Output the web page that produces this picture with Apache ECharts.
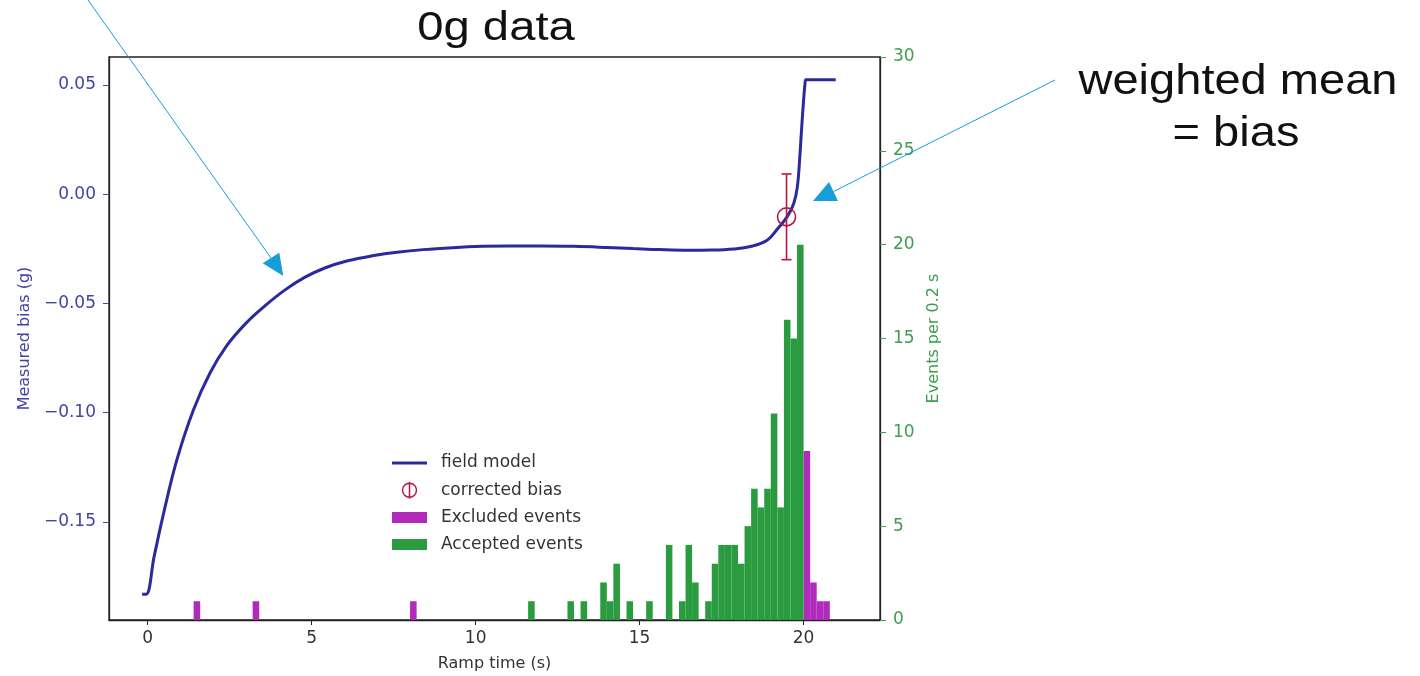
<!DOCTYPE html>
<html>
<head>
<meta charset="utf-8">
<script src="https://cdn.jsdelivr.net/npm/echarts@6/dist/echarts.min.js"></script>
<style>
html, body { margin: 0; padding: 0; background: #ffffff; }
#chart { width: 1420px; height: 676px; }
</style>
</head>
<body>
<div id="chart"></div>
<script>
// Field model: ramp time (s) against measured bias (g)
const modelTime = [-0.17, -0.05, 0.2, 0.5, 0.9, 1.4, 1.9, 2.4, 3.0, 3.6, 4.2, 4.8, 5.4, 6.1, 6.9, 7.6, 8.4, 9.3, 10.2, 11.0, 12.0, 13.0, 14.0, 14.8, 15.6, 16.5, 17.2, 17.87, 18.38, 18.89, 19.2, 19.5, 19.7, 19.81, 19.88, 19.94, 20.0, 20.04, 20.07, 20.98];
const modelBias = [-0.1830, -0.1830, -0.1655, -0.1450, -0.1210, -0.0985, -0.0818, -0.0695, -0.0590, -0.0508, -0.0437, -0.0380, -0.0338, -0.0305, -0.0281, -0.0266, -0.0254, -0.0245, -0.0239, -0.0237, -0.0237, -0.0239, -0.0244, -0.0249, -0.0254, -0.0257, -0.0256, -0.0251, -0.0240, -0.0211, -0.0160, -0.0103, -0.0043, 0.0033, 0.0160, 0.0300, 0.0430, 0.0500, 0.0523, 0.0523];

// Corrected bias (weighted mean) and its uncertainty
const biasTime = [19.48];
const biasValue = [-0.0104];
const biasError = [0.0196];

// Event histograms, 0.2 s bins: left bin edges and counts
const binWidth = 0.2;
const acceptedStart = [11.6, 12.8, 13.2, 13.8, 14.0, 14.2, 14.6, 15.2, 15.8, 16.2, 16.4, 16.6, 17.0, 17.2, 17.4, 17.6, 17.8, 18.0, 18.2, 18.4, 18.6, 18.8, 19.0, 19.2, 19.4, 19.6, 19.8];
const acceptedCount = [1, 1, 1, 2, 1, 3, 1, 1, 4, 1, 4, 2, 1, 3, 4, 4, 4, 3, 5, 7, 6, 7, 11, 6, 16, 15, 20];
const excludedStart = [1.4, 3.2, 8.0, 20.0, 20.2, 20.4, 20.6];
const excludedCount = [1, 1, 1, 9, 2, 1, 1];

// Tick values
const timeTicks = [0, 5, 10, 15, 20];
const biasTicks = [-0.15, -0.10, -0.05, 0.00, 0.05];
const countTicks = [0, 5, 10, 15, 20, 25, 30];

const BLUE = '#2a2a9c';
const AXIS_BLUE = '#4242a8';
const AXIS_GREEN = '#3d9e50';
const GREEN = '#2a9b3f';
const PURPLE = '#b02bb9';
const CRIMSON = '#b3184a';
const ARROW = '#189ddb';
const FONT = 'DejaVu Sans';

const modelData = modelTime.map((t, i) => [t, modelBias[i]]);
const biasData = biasTime.map((t, i) => [t, biasValue[i], biasError[i]]);
const acceptedData = acceptedStart.map((t, i) => [t, acceptedCount[i]]);
const excludedData = excludedStart.map((t, i) => [t, excludedCount[i]]);

function histItem(params, api) {
  const x0 = api.value(0);
  const h = api.value(1);
  const a = api.coord([x0, 0]);
  const b = api.coord([x0 + binWidth, h]);
  return {
    type: 'rect',
    shape: { x: a[0], y: b[1], width: b[0] - a[0], height: a[1] - b[1] },
    style: { fill: api.visual('color') }
  };
}

function errorItem(params, api) {
  const t = api.value(0), v = api.value(1), e = api.value(2);
  const c = api.coord([t, v]);
  const hi = api.coord([t, v + e]);
  const lo = api.coord([t, v - e]);
  const st = { stroke: CRIMSON, lineWidth: 1.6, fill: 'none' };
  return {
    type: 'group',
    children: [
      { type: 'line', shape: { x1: hi[0], y1: hi[1], x2: lo[0], y2: lo[1] }, style: st },
      { type: 'line', shape: { x1: hi[0] - 5, y1: hi[1], x2: hi[0] + 5, y2: hi[1] }, style: st },
      { type: 'line', shape: { x1: lo[0] - 5, y1: lo[1], x2: lo[0] + 5, y2: lo[1] }, style: st },
      { type: 'circle', shape: { cx: c[0], cy: c[1], r: 9 }, style: st }
    ]
  };
}

const minus = (s) => s.replace('-', '\u2212');

const chart = echarts.init(document.getElementById('chart'), null, { renderer: 'canvas' });

chart.setOption({
  animation: false,
  backgroundColor: '#ffffff',
  textStyle: { fontFamily: FONT },
  grid: {
    left: 109, top: 57, width: 771, height: 563,
    outerBoundsMode: 'none',
    containLabel: false,
    show: true, borderColor: '#222', borderWidth: 1.3, backgroundColor: 'transparent'
  },
  legend: {
    orient: 'vertical',
    left: 392, top: 454,
    padding: 0,
    itemWidth: 35, itemHeight: 17, itemGap: 9,
    symbolKeepAspect: true,
    textStyle: { fontFamily: FONT, fontSize: 17, color: '#333', lineHeight: 18, padding: [0, 0, 0, 9] },
    data: [
      { name: 'field model', icon: 'path://M0,0H35V3H0Z', itemStyle: { color: BLUE } },
      { name: 'corrected bias', icon: 'path://M9,0A9,9 0 1 1 8.99,0ZM9,-2L9,20', itemStyle: { color: 'transparent', borderColor: CRIMSON, borderWidth: 1.5 } },
      { name: 'Excluded events', icon: 'path://M0,0H35V11H0Z' },
      { name: 'Accepted events', icon: 'path://M0,0H35V11H0Z' }
    ]
  },
  xAxis: {
    type: 'value',
    min: -1.18, max: 22.33,
    name: 'Ramp time (s)',
    nameLocation: 'middle', nameGap: 36,
    nameTextStyle: { fontFamily: FONT, fontSize: 16, color: '#333' },
    axisLine: { show: true, onZero: false, lineStyle: { color: '#222', width: 1.3 } },
    axisTick: { show: true, length: 5, customValues: timeTicks, lineStyle: { color: '#222' } },
    axisLabel: { customValues: timeTicks, margin: 10, fontFamily: FONT, fontSize: 17, color: '#333' },
    splitLine: { show: false }
  },
  yAxis: [
    {
      type: 'value',
      position: 'left',
      min: -0.1948, max: 0.0627,
      name: 'Measured bias (g)',
      nameLocation: 'middle', nameGap: 75, nameRotate: 90,
      nameTextStyle: { fontFamily: FONT, fontSize: 16, color: AXIS_BLUE },
      axisLine: { show: true, onZero: false, lineStyle: { color: '#222', width: 1.3 } },
      axisTick: { show: true, length: 6, customValues: biasTicks, lineStyle: { color: AXIS_BLUE } },
      axisLabel: {
        customValues: biasTicks, margin: 13, fontFamily: FONT, fontSize: 17, color: AXIS_BLUE,
        formatter: (v) => minus(v.toFixed(2))
      },
      splitLine: { show: false }
    },
    {
      type: 'value',
      position: 'right',
      min: 0, max: 30, interval: 5,
      name: 'Events per 0.2 s',
      nameLocation: 'middle', nameGap: 36, nameRotate: 90,
      nameTextStyle: { fontFamily: FONT, fontSize: 16, color: AXIS_GREEN },
      axisLine: { show: true, onZero: false, lineStyle: { color: '#222', width: 1.3 } },
      axisTick: { show: true, length: 6, customValues: countTicks, lineStyle: { color: AXIS_GREEN } },
      axisLabel: { customValues: countTicks, margin: 13, fontFamily: FONT, fontSize: 17, color: AXIS_GREEN },
      splitLine: { show: false }
    }
  ],
  series: [
    {
      name: 'field model',
      type: 'line',
      xAxisIndex: 0, yAxisIndex: 0,
      data: modelData,
      symbol: 'none',
      smooth: 0.4,
      lineStyle: { color: BLUE, width: 3 },
      itemStyle: { color: BLUE },
      z: 3
    },
    {
      name: 'corrected bias',
      type: 'custom',
      xAxisIndex: 0, yAxisIndex: 0,
      data: biasData,
      encode: { x: 0, y: 1 },
      renderItem: errorItem,
      itemStyle: { color: CRIMSON },
      z: 4
    },
    {
      name: 'Excluded events',
      type: 'custom',
      xAxisIndex: 0, yAxisIndex: 1,
      data: excludedData,
      encode: { x: 0, y: 1 },
      renderItem: histItem,
      itemStyle: { color: PURPLE },
      z: 5
    },
    {
      name: 'Accepted events',
      type: 'custom',
      xAxisIndex: 0, yAxisIndex: 1,
      data: acceptedData,
      encode: { x: 0, y: 1 },
      renderItem: histItem,
      itemStyle: { color: GREEN },
      z: 5
    }
  ],
  graphic: [
    {
      type: 'text', x: 496, y: 29, scaleX: 1.18, z: 10,
      style: { text: '0g data', fontFamily: 'Liberation Sans', fontSize: 40, fill: '#111', align: 'center', verticalAlign: 'middle' }
    },
    {
      type: 'text', x: 1238, y: 82, scaleX: 1.12, z: 10,
      style: { text: 'weighted mean', fontFamily: 'Liberation Sans', fontSize: 42, fill: '#111', align: 'center', verticalAlign: 'middle' }
    },
    {
      type: 'text', x: 1236, y: 134, scaleX: 1.12, z: 10,
      style: { text: '= bias', fontFamily: 'Liberation Sans', fontSize: 42, fill: '#111', align: 'center', verticalAlign: 'middle' }
    },
    {
      type: 'line', z: 10,
      shape: { x1: 88, y1: 0, x2: 271, y2: 258 },
      style: { stroke: ARROW, lineWidth: 1 }
    },
    {
      type: 'polygon', z: 10,
      shape: { points: [[283.3, 276], [262.7, 263.3], [279.3, 252.7]] },
      style: { fill: ARROW }
    },
    {
      type: 'line', z: 10,
      shape: { x1: 1055, y1: 80, x2: 833.5, y2: 191.5 },
      style: { stroke: ARROW, lineWidth: 1 }
    },
    {
      type: 'polygon', z: 10,
      shape: { points: [[813, 201], [838, 201], [829, 182]] },
      style: { fill: ARROW }
    }
  ]
});
</script>
</body>
</html>
